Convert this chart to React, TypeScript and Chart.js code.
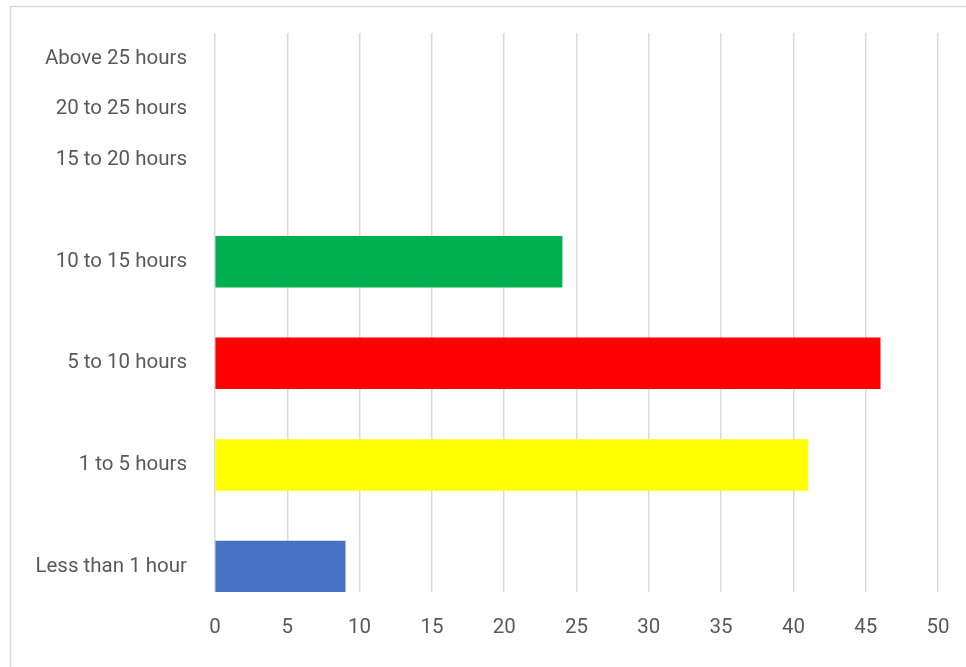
import React, { useEffect, useRef } from "react";
import { Chart, registerables } from "chart.js";

Chart.register(...registerables);

// Category slots from top to bottom (blank slots keep the original spacing)
const slotLabels = [
  "Above 25 hours",
  "20 to 25 hours",
  "15 to 20 hours",
  "",
  "10 to 15 hours",
  "",
  "5 to 10 hours",
  "",
  "1 to 5 hours",
  "",
  "Less than 1 hour",
];
const slotValues: (number | null)[] = [null, null, null, null, 24, null, 46, null, 41, null, 9];
const slotColors = [
  "#000000",
  "#000000",
  "#000000",
  "#000000",
  "#00B050",
  "#000000",
  "#FF0000",
  "#000000",
  "#FFFF00",
  "#000000",
  "#4472C4",
];
const xMin = 0;
const xMax = 50;
const xStep = 5;

const FONT = "Roboto, 'DejaVu Sans Condensed', sans-serif";

const framePlugin = {
  id: "frame",
  beforeDraw(chart: any) {
    const ctx = chart.ctx;
    ctx.save();
    ctx.fillStyle = "#ffffff";
    ctx.fillRect(0, 0, chart.width, chart.height);
    ctx.strokeStyle = "#d9d9d9";
    ctx.lineWidth = 1.5;
    ctx.beginPath();
    ctx.moveTo(10.5, chart.height);
    ctx.lineTo(10.5, 6.5);
    ctx.lineTo(chart.width, 6.5);
    ctx.stroke();
    ctx.restore();
  },
};

export default function App() {
  const ref = useRef<HTMLCanvasElement | null>(null);
  useEffect(() => {
    document.body.style.margin = "0";
    const chart = new Chart(ref.current as HTMLCanvasElement, {
      type: "bar",
      data: {
        labels: slotLabels,
        datasets: [
          {
            data: slotValues as any,
            backgroundColor: slotColors,
            categoryPercentage: 1,
            barPercentage: 1,
            borderWidth: 0,
          },
        ],
      },
      options: {
        indexAxis: "y",
        animation: false,
        responsive: false,
        layout: { padding: { left: 0, right: 28, top: 33, bottom: 0 } },
        plugins: { legend: { display: false }, tooltip: { enabled: false } },
        scales: {
          x: {
            min: xMin,
            max: xMax,
            ticks: {
              stepSize: xStep,
              color: "#595959",
              font: { family: FONT, size: 20.5 },
              padding: 24,
            },
            grid: { color: "#d9d9d9", lineWidth: 1.5, drawTicks: false },
            border: { display: false },
            afterFit: (s: any) => {
              s.height = 75;
              s.paddingLeft = 0;
              s.paddingRight = 0;
            },
          },
          y: {
            ticks: {
              color: "#595959",
              font: { family: FONT, size: 20.5 },
              padding: 28,
              autoSkip: false,
            },
            grid: { display: false, drawTicks: false },
            border: { display: false },
            afterFit: (s: any) => {
              s.width = 215;
              s.paddingTop = 0;
              s.paddingBottom = 0;
            },
          },
        },
      },
      plugins: [framePlugin],
    });
    return () => chart.destroy();
  }, []);
  return (
    <div style={{ width: 966, height: 667 }}>
      <canvas ref={ref} width={966} height={667} style={{ display: "block" }} />
    </div>
  );
}
